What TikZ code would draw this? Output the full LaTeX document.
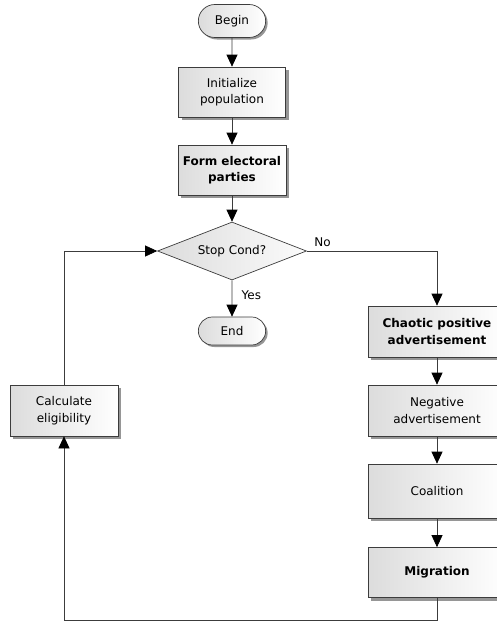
\documentclass[tikz,border=0pt]{standalone}
\usepackage{fontspec}
\setmainfont{DejaVu Sans}
\usepackage{tikz}
\usetikzlibrary{arrows.meta,shapes,positioning,shadows,calc}
\definecolor{fcline}{RGB}{60,60,60}
\definecolor{fcshade}{RGB}{220,220,220}
\definecolor{fcdrop}{RGB}{150,150,150}
\newcommand{\fcfont}{\fontsize{12}{16.5}\selectfont}
\tikzstyle{arrow} = [draw=fcline, line width=0.7pt, -{Triangle[length=12pt,width=11pt,color=black]}]
\tikzstyle{process} = [rectangle, minimum width=108pt, minimum height=51pt, text centered, align=center, draw=fcline, line width=0.7pt, left color=fcshade, right color=white, drop shadow={shadow xshift=3pt, shadow yshift=-3pt, fill=fcdrop, opacity=1}, font=\fcfont]
\tikzstyle{terminal} = [rounded rectangle, minimum width=74pt, minimum height=30pt, text centered, draw=fcline, line width=0.7pt, left color=fcshade, right color=white, drop shadow={shadow xshift=2pt, shadow yshift=-2pt, fill=fcdrop, opacity=1}, font=\fcfont]
\tikzstyle{decision} = [diamond, aspect=2.5, inner sep=0pt, minimum width=149pt, minimum height=58pt, draw=fcline, line width=0.7pt, left color=fcshade, right color=white!90!fcshade, font=\fcfont]

\begin{document}
\begin{tikzpicture}[x=1pt, y=1pt]
    \useasboundingbox (0,0) rectangle (496,-622);

    % Main column
    \node[terminal, minimum height=33pt] (begin) at (232,-21) {Begin};
    \node[process, minimum width=107pt, minimum height=50pt] (init) at (232,-92) {Initialize\\population};
    \node[process, minimum height=50pt, font=\fcfont\bfseries] (form) at (232,-170) {Form electoral\\parties};
    \node[decision] (stop) at (232,-251) {Stop Cond?};
    \node[terminal, minimum height=28pt] (finish) at (232,-331) {End};

    % Right column
    \node[process, minimum width=138pt, font=\fcfont\bfseries] (chaotic) at (437,-331.5) {Chaotic positive\\advertisement};
    \node[process, minimum width=138pt] (negative) at (437,-410.5) {Negative\\advertisement};
    \node[process, minimum width=138pt, minimum height=54pt] (coalition) at (437,-491) {Coalition};
    \node[process, minimum width=138pt, minimum height=50pt, font=\fcfont\bfseries] (migration) at (437,-572.5) {Migration};

    % Left column
    \node[process] (calc) at (64,-410.5) {Calculate\\eligibility};

    % Connections
    \draw[arrow] (begin) -- (init);
    \draw[arrow] (init) -- (form);
    \draw[arrow] (form) -- (stop);
    \draw[arrow] (stop) -- node[right, font=\fcfont, pos=0.4, xshift=6pt] (yes) {Yes} (finish);
    \draw[arrow] (stop.east) -- node[above, font=\fcfont, pos=0.12, yshift=1pt] (no) {No} (stop.east -| chaotic.north) -- (chaotic.north);
    \draw[arrow] (chaotic) -- (negative);
    \draw[arrow] (negative) -- (coalition);
    \draw[arrow] (coalition) -- (migration);

    % Feedback loop
    \draw[arrow] (migration.south) -- ++(0,-22.5) -| (calc.south);
    \draw[arrow] (calc.north) |- (stop.west);
\end{tikzpicture}
\end{document}
